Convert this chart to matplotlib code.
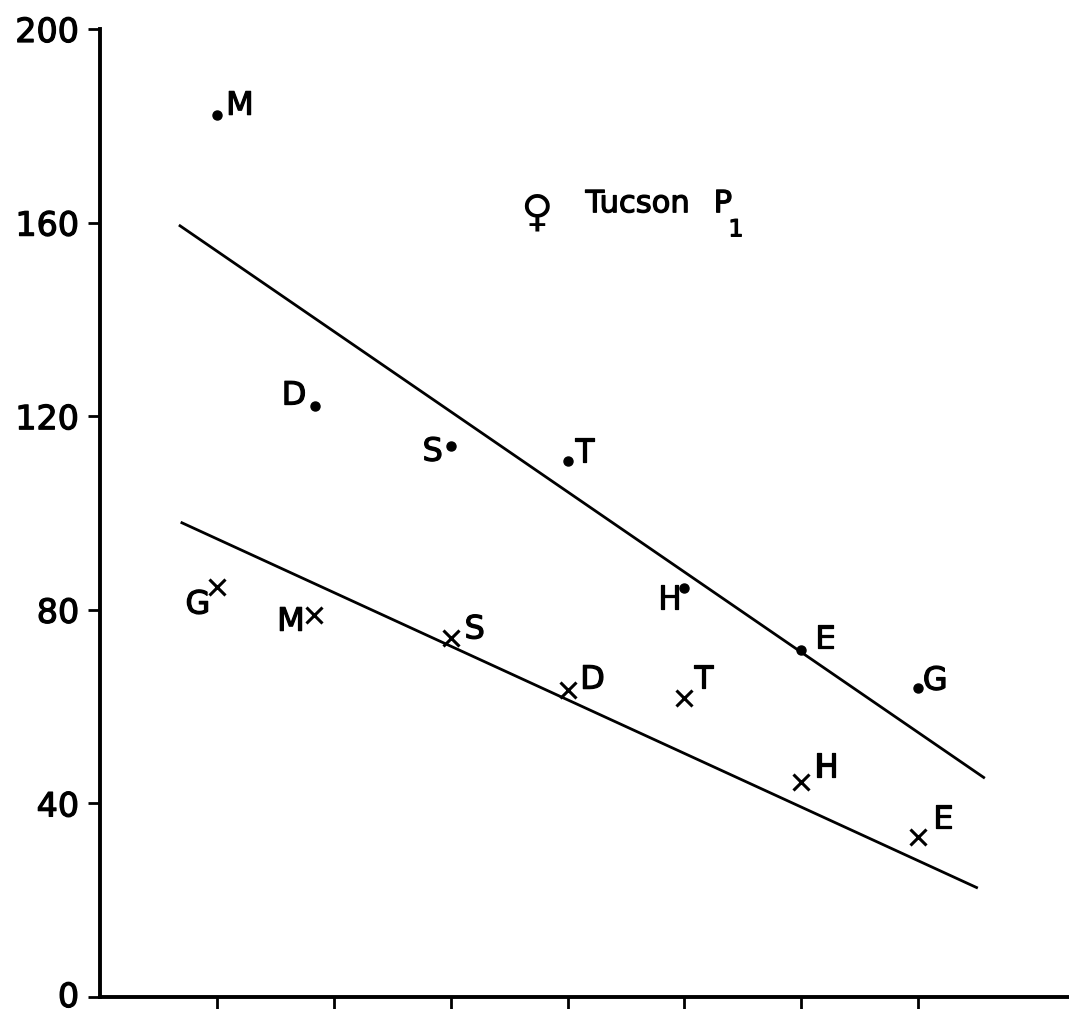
import matplotlib
matplotlib.use("Agg")
import matplotlib.pyplot as plt
import matplotlib.patheffects as pe
import matplotlib.transforms as mtransforms

# ---- data ----
female_labels = ["M", "D", "S", "T", "H", "E", "G"]
female_x = [1.0, 1.84, 3.0, 4.0, 5.0, 6.0, 7.0]
female_y = [182.2, 122.1, 113.8, 110.7, 84.5, 71.7, 63.8]

male_labels = ["G", "M", "S", "D", "T", "H", "E"]
male_x = [1.0, 1.83, 3.0, 4.0, 5.0, 6.0, 7.0]
male_y = [84.7, 78.9, 74.2, 63.4, 61.8, 44.4, 33.1]

# fitted lines (endpoints)
upper_line_x = [0.675, 7.57]
upper_line_y = [159.5, 45.2]
lower_line_x = [0.69, 7.51]
lower_line_y = [98.1, 22.5]

x_ticks = [1, 2, 3, 4, 5, 6, 7]
y_ticks = [0, 40, 80, 120, 160, 200]

# ---- layout (label offsets in pixels, +y up) ----
female_offsets = [(23, 9), (-21, 10), (-18, -6), (17, 8), (-15, -12), (24, 10), (17, 7)]
male_offsets = [(-19, -18), (-23, -7), (24, 8), (25, 10), (19, 18), (25, 14), (25, 17)]

thick = [pe.withStroke(linewidth=0.9, foreground="black")]

plt.rcParams['font.family'] = ['DejaVu Sans']
fig = plt.figure(figsize=(10.69, 10.09), dpi=100)
ax = fig.add_axes([100 / 1069, 12 / 1009, 1 - 100 / 1069, (997 - 29) / 1009])

ax.set_xlim(0, 8.29)
ax.set_ylim(0, 200)

ax.plot(upper_line_x, upper_line_y, color="black", lw=2.0, solid_capstyle="butt")
ax.plot(lower_line_x, lower_line_y, color="black", lw=2.0, solid_capstyle="butt")

ax.plot(female_x, female_y, "o", color="black", ms=6.5, linestyle="none")
ax.plot(male_x, male_y, "x", color="black", ms=11, mew=2.2, linestyle="none")

fs = 23
for lab, x, y, off in zip(female_labels, female_x, female_y, female_offsets):
    ax.annotate(lab, (x, y), xytext=off, textcoords="offset pixels",
                ha="center", va="center", fontsize=fs, path_effects=thick)
for lab, x, y, off in zip(male_labels, male_x, male_y, male_offsets):
    ax.annotate(lab, (x, y), xytext=off, textcoords="offset pixels",
                ha="center", va="center", fontsize=fs, path_effects=thick)

# title inside plot
ax.text(3.73, 162.0, "\u2640", ha="center", va="center", fontsize=32)
ax.text(4.154, 163.9, "Tucson", ha="left", va="center", fontsize=22,
        path_effects=thick)
ax.text(5.25, 163.9, "P", ha="left", va="center", fontsize=22,
        path_effects=thick)
ax.text(5.44, 158.6, "1", ha="center", va="center", fontsize=17,
        path_effects=thick)

for s in ["top", "right"]:
    ax.spines[s].set_visible(False)
for s in ["left", "bottom"]:
    ax.spines[s].set_linewidth(2.8)

ax.set_xticks(x_ticks)
ax.set_xticklabels([])
ax.set_yticks(y_ticks)
ax.set_yticklabels([str(v) for v in y_ticks], fontsize=24)
for t in ax.get_yticklabels():
    t.set_path_effects(thick)
ax.tick_params(axis="both", direction="out", length=9, width=2.0, color="black")
ax.tick_params(axis="y", pad=6)

# keep the "0" label fully inside the figure
zero_label = ax.get_yticklabels()[0]
zero_label.set_transform(zero_label.get_transform() +
                         mtransforms.ScaledTranslation(0, 3 / 100, fig.dpi_scale_trans))

fig.savefig("out.png", dpi=100, facecolor="white")
